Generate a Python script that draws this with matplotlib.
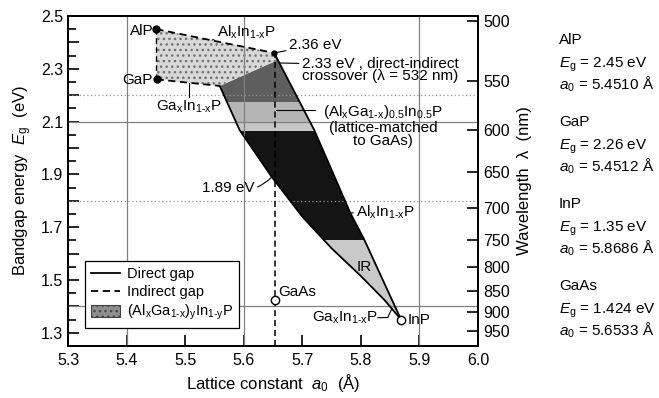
import matplotlib.pyplot as plt
from matplotlib.patches import Polygon, Patch
from matplotlib.lines import Line2D
from matplotlib.ticker import MultipleLocator, FuncFormatter

plt.rcParams['font.family'] = ['Liberation Sans', 'DejaVu Sans']
plt.rcParams['mathtext.fontset'] = 'custom'
plt.rcParams['mathtext.rm'] = 'Liberation Sans'
plt.rcParams['mathtext.it'] = 'Liberation Sans:italic'
plt.rcParams['mathtext.default'] = 'regular'
plt.rcParams['hatch.linewidth'] = 1.0

# binary compounds: lattice constant (A), bandgap (eV)
binaries = ["AlP", "GaP", "InP", "GaAs"]
a0 = [5.4510, 5.4512, 5.8686, 5.6533]
eg = [2.45, 2.26, 1.35, 1.424]

# GaInP direct gap edge (left side of direct region)
gainp_a = [5.559, 5.593, 5.648, 5.700, 5.750, 5.800, 5.840, 5.8686]
gainp_e = [2.235, 2.068, 1.890, 1.740, 1.620, 1.515, 1.425, 1.35]

# AlInP direct gap edge (right side of direct region)
alinp_a = [5.8686, 5.806, 5.782, 5.720, 5.652]
alinp_e = [1.35, 1.652, 1.754, 2.070, 2.36]

# direct-indirect crossover line
cross_a = [5.655, 5.559]
cross_e = [2.33, 2.235]

# colour bands inside the direct region (eV limits)
band_top = [2.50, 2.175, 2.10, 2.066, 1.653]
band_bot = [2.175, 2.10, 2.066, 1.653, 1.20]
band_col = ['#5e5e5e', '#b5b5b5', '#c6c6c6', '#141414', '#c9c9c9']

# wavelength axis
wl = [500, 550, 600, 650, 700, 750, 800, 850, 900, 950]

H = '\u2010'  # short hyphen for the 1-x subscripts

fig = plt.figure(figsize=(6.59, 3.98), dpi=100)
ax = fig.add_axes([68/659, 1-346/398, 410/659, 330/398])
ax.set_xlim(5.3, 6.0)
ax.set_ylim(1.25, 2.5)

# grid lines
for y in [2.1, 1.4]:
    ax.axhline(y, color='#808080', lw=0.9, zorder=3)
for y in [2.2, 1.8]:
    ax.axhline(y, color='#909090', lw=0.9, ls=(0, (1, 2)), zorder=3)
for x in [5.4, 5.6, 5.9]:
    ax.axvline(x, color='#808080', lw=0.9, zorder=3)

# direct-gap region with colour bands
reg = Polygon(list(zip(gainp_a + alinp_a, gainp_e + alinp_e)) + [(cross_a[0], cross_e[0])],
              closed=True, fc='none', ec='none')
ax.add_patch(reg)
for t, b, c in zip(band_top, band_bot, band_col):
    sp = ax.axhspan(b, t, color=c, lw=0, zorder=2)
    sp.set_clip_path(reg)

# indirect-gap region (dotted)
ind = Polygon([(a0[0], eg[0]), (alinp_a[-1], alinp_e[-1]), (cross_a[0], cross_e[0]),
               (cross_a[1], cross_e[1]), (a0[1], eg[1])],
              closed=True, fc='#d8d8d8', ec='#707070', lw=0, hatch='...', zorder=2)
ax.add_patch(ind)

# boundary lines
dash = (0, (4, 2.5))
ax.plot(gainp_a, gainp_e, color='k', lw=1.3, zorder=4)
ax.plot(alinp_a, alinp_e, color='k', lw=1.3, zorder=4)
ax.plot([a0[0], alinp_a[-1]], [eg[0], alinp_e[-1]], color='k', lw=1.3, ls=dash, zorder=4)
ax.plot([a0[1], cross_a[1]], [eg[1], cross_e[1]], color='k', lw=1.3, ls=dash, zorder=4)
ax.plot([a0[0], a0[1]], [eg[0], eg[1]], color='k', lw=1.0, ls=dash, zorder=4)
ax.plot([a0[3], a0[3]], [1.25, alinp_e[-1]], color='k', lw=1.1, ls=dash, zorder=4)

# binary points
ax.plot(a0[:2], eg[:2], 'o', color='k', ms=5, zorder=6)
ax.plot([alinp_a[-1]], [alinp_e[-1]], 'o', color='k', ms=3.5, zorder=6)
ax.plot(a0[2:], eg[2:], 'o', mfc='white', mec='k', mew=1.0, ms=6, zorder=6)

fs = 11
line = dict(arrowstyle='-', lw=0.8, shrinkA=0, shrinkB=0)
ax.text(5.446, 2.445, 'AlP', fontsize=fs, ha='right', va='center', zorder=7)
ax.text(5.444, 2.256, 'GaP', fontsize=fs, ha='right', va='center', zorder=7)
ax.annotate(f'Al$_x$In$_{{1{H}x}}$P', xy=(5.546, 2.409), xytext=(5.554, 2.437), fontsize=fs,
            ha='left', va='center', arrowprops=line)
ax.annotate('2.36 eV', xy=(5.652, 2.36), xytext=(5.677, 2.39), fontsize=fs,
            ha='left', va='center', arrowprops=line)
ax.annotate('2.33 eV , direct-indirect\ncrossover (λ = 532 nm)', xy=(5.662, 2.322),
            xytext=(5.699, 2.296), fontsize=fs, ha='left', va='center', linespacing=0.78,
            arrowprops=dict(arrowstyle='-', lw=0.8, shrinkA=0, shrinkB=0, relpos=(0, 0.75)))
ax.plot([5.655, 5.722], [2.144, 2.144], color='k', lw=0.8, zorder=5)
ax.text(5.838, 2.085, f'(Al$_x$Ga$_{{1{H}x}}$)$_{{0.5}}$In$_{{0.5}}$P\n(lattice-matched\nto GaAs)',
        fontsize=fs, ha='center', va='center', linespacing=0.92)
ax.plot([5.506, 5.506], [2.247, 2.195], color='k', lw=0.8, zorder=5)
ax.text(5.506, 2.155, f'Ga$_x$In$_{{1{H}x}}$P', fontsize=fs, ha='center', va='center')
ax.annotate('1.89 eV', xy=(5.648, 1.89), xytext=(5.619, 1.85), fontsize=fs,
            ha='right', va='center', arrowprops=dict(arrowstyle='-', lw=0.8, shrinkA=0, shrinkB=0,
                                                      connectionstyle='arc3,rad=0.3'))
ax.annotate(f'Al$_x$In$_{{1{H}x}}$P', xy=(5.782, 1.754), xytext=(5.792, 1.756), fontsize=fs,
            ha='left', va='center', arrowprops=line)
ax.text(5.805, 1.548, 'IR', fontsize=fs, ha='center', va='center', zorder=7)
ax.text(5.659, 1.455, 'GaAs', fontsize=fs, ha='left', va='center')
ax.plot([5.829, 5.846, 5.853], [1.357, 1.358, 1.392], color='k', lw=0.8, zorder=5)
ax.text(5.828, 1.357, f'Ga$_x$In$_{{1{H}x}}$P', fontsize=fs, ha='right', va='center')
ax.text(5.879, 1.347, 'InP', fontsize=fs, ha='left', va='center')

# axes styling
ax.xaxis.set_major_locator(MultipleLocator(0.1))
ax.yaxis.set_major_locator(MultipleLocator(0.1))
ax.yaxis.set_minor_locator(MultipleLocator(0.05))
ax.yaxis.set_major_formatter(FuncFormatter(
    lambda v, p: f'{v:.1f}' if abs(round((v - 1.3) / 0.2) * 0.2 - (v - 1.3)) < 1e-6 else ''))
ax.xaxis.set_major_formatter(FuncFormatter(lambda v, p: f'{v:.1f}'))
ax.tick_params(which='both', direction='in', labelsize=11.5, width=1.2)
ax.tick_params(which='major', length=8)
ax.tick_params(which='minor', length=6)
ax.tick_params(axis='x', pad=5)
for s in ax.spines.values():
    s.set_linewidth(1.3)
ax.set_xlabel(r'Lattice constant  $\mathit{a}_0$  (Å)', fontsize=12, labelpad=3)
ax.set_ylabel(r'Bandgap energy  $\mathit{E}_g$  (eV)', fontsize=12, labelpad=5)

ax2 = ax.twinx()
ax2.set_ylim(ax.get_ylim())
ax2.set_yticks([1239.84 / w for w in wl])
ax2.set_yticklabels([str(w) for w in wl])
ax2.tick_params(direction='in', length=8, width=1.2, labelsize=11.5, pad=4)
for s in ax2.spines.values():
    s.set_linewidth(1.3)
ax2.set_ylabel('Wavelength  λ  (nm)', fontsize=12, labelpad=5)

# legend
handles = [Line2D([], [], color='k', lw=1.3),
           Line2D([], [], color='k', lw=1.3, ls=dash),
           Patch(fc='#8f8f8f', ec='#444444', hatch='...', lw=0.8)]
labels = ['Direct gap', 'Indirect gap', f'(Al$_x$Ga$_{{1{H}x}}$)$_y$In$_{{1{H}y}}$P']
leg = ax.legend(handles, labels, loc='lower left', bbox_to_anchor=(0.041, 0.055),
                borderaxespad=0, fancybox=False, framealpha=1, edgecolor='k',
                fontsize=10.5, handlelength=2.0, handleheight=0.9, labelspacing=0.25,
                handletextpad=0.5, borderpad=0.4)
leg.get_frame().set_linewidth(0.9)
leg.set_zorder(8)

# binary data on the right
for i, (name, a, e) in enumerate(zip(binaries, a0, eg)):
    y_name = 1 - (40 + i * 82) / 398
    y_vals = 1 - (75 + i * 82) / 398
    fig.text(559/659, y_name, name, fontsize=11, va='center', ha='left')
    txt = r'$\mathit{E}_g$ = ' + f'{e:g} eV' + '\n' + r'$\mathit{a}_0$ = ' + f'{a:.4f} Å'
    fig.text(559/659, y_vals, txt, fontsize=11, va='center', ha='left', linespacing=1.0)

fig.savefig('out.png', dpi=100)
